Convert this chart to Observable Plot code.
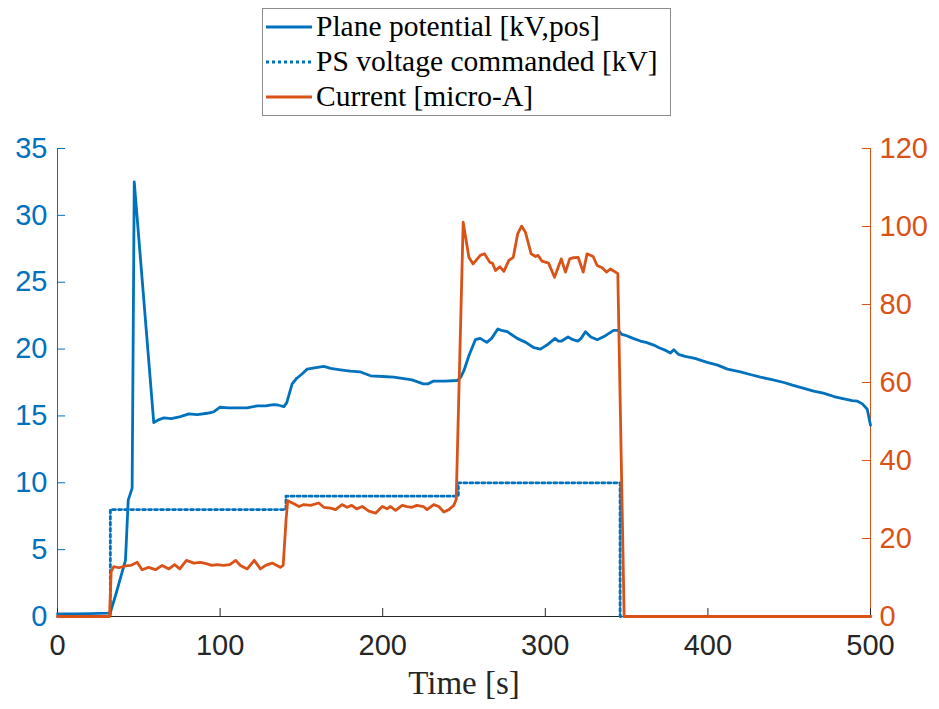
<!DOCTYPE html>
<html>
<head>
<meta charset="utf-8">
<script src="https://cdn.jsdelivr.net/npm/d3@7"></script>
<script src="https://cdn.jsdelivr.net/npm/@observablehq/plot@0.6"></script>
<style>
  html, body { margin: 0; padding: 0; background: #fff; }
  #wrap { position: relative; width: 939px; height: 709px; }
  #legend { position: absolute; left: 262px; top: 8px; }
</style>
</head>
<body>
<div id="wrap"></div>
<script>
// ---------- data ----------
const planeT = [0, 10, 20, 31, 32.5, 36, 39, 41.8, 43.5, 45.9, 46.5, 47.2, 59.2, 62, 65.4, 70, 75.6, 80.8, 86, 92, 96, 100, 105, 110, 116.6, 122.8, 128, 133, 136, 139.2, 141, 144.3, 147, 150, 153.6, 158, 163.8, 168, 174, 180, 186, 192.5, 200, 206.7, 212, 218, 225, 228, 231, 238, 245.8, 248, 250, 253, 257, 260, 264, 267, 270.8, 273, 276.6, 282.7, 288, 293, 297, 301, 306, 308, 310, 314, 317, 320, 322, 324.7, 328, 332, 337, 342, 345, 347, 350, 354, 358.5, 362, 366.7, 370, 374, 377, 379, 382, 386, 392, 399.6, 406, 412, 420, 426, 432.3, 440, 446.7, 452, 458, 465, 471, 477.5, 483, 488.7, 492, 495, 498, 500];
const planeV = [0.2, 0.2, 0.22, 0.25, 0.3, 1.7, 3.0, 4.2, 8.7, 9.6, 20, 32.5, 14.5, 14.7, 14.85, 14.8, 14.95, 15.15, 15.1, 15.2, 15.3, 15.65, 15.6, 15.6, 15.6, 15.75, 15.75, 15.85, 15.8, 15.7, 16.0, 17.4, 17.8, 18.1, 18.5, 18.6, 18.7, 18.55, 18.45, 18.35, 18.3, 18.0, 17.95, 17.9, 17.8, 17.7, 17.4, 17.4, 17.6, 17.6, 17.65, 17.9, 18.4, 19.5, 20.7, 20.8, 20.5, 20.8, 21.5, 21.4, 21.3, 20.8, 20.5, 20.1, 20.0, 20.3, 20.8, 20.6, 20.6, 20.9, 20.7, 20.6, 20.8, 21.3, 20.9, 20.7, 21.0, 21.4, 21.4, 21.1, 21.0, 20.8, 20.6, 20.5, 20.3, 20.1, 19.9, 19.7, 19.95, 19.6, 19.45, 19.3, 19.0, 18.8, 18.5, 18.3, 18.1, 17.9, 17.7, 17.5, 17.3, 17.1, 16.85, 16.7, 16.45, 16.3, 16.15, 16.1, 15.9, 15.5, 14.3];

const psT = [0, 32.5, 32.5, 140.5, 140.5, 246.5, 246.5, 346, 346, 500];
const psV = [0, 0, 8, 8, 9, 9, 10, 10, 0, 0];

const curT = [0, 32, 33, 34.6, 37.7, 42, 45, 49, 52, 56, 60.3, 64.4, 68.5, 72, 75.2, 79.3, 83.8, 88, 92, 95, 98, 102, 106, 109.5, 112.5, 116.7, 121, 124.8, 128, 132, 137, 138.8, 140.6, 141.6, 145.4, 148.5, 151.5, 155.6, 160.7, 163.8, 168, 171, 175, 178, 181, 184, 187.4, 191.5, 195.6, 199.7, 202.7, 204.8, 207.9, 212, 215, 218, 221, 225, 227.3, 231.4, 234.5, 237.6, 240.7, 243.7, 245.2, 249.5, 253, 255.6, 260, 262.6, 265.9, 267.5, 269.4, 272, 274.5, 277.6, 280.3, 283, 285.4, 287.8, 291.3, 294, 295.5, 298, 302, 305.7, 309.8, 312.4, 315, 317.5, 320.2, 323.3, 325.7, 329.4, 331.9, 335, 337.6, 340, 343.2, 344.6, 348.5, 500];
const curV = [0, 0, 11.5, 12.8, 12.5, 13.0, 13.1, 13.9, 12.0, 12.6, 12.0, 13.1, 12.2, 13.3, 12.2, 14.4, 13.7, 13.9, 13.5, 13.1, 13.3, 13.1, 13.3, 14.4, 13.1, 12.2, 14.4, 12.2, 13.1, 13.7, 12.6, 13.1, 25.0, 29.7, 28.9, 28.2, 28.7, 28.5, 29.1, 28.0, 27.8, 27.4, 28.7, 28.0, 28.5, 27.6, 28.2, 27.0, 26.5, 28.2, 27.6, 28.2, 27.2, 28.5, 28.2, 28.0, 28.5, 28.2, 27.4, 28.7, 28.2, 26.8, 27.4, 28.5, 30.0, 101.1, 92.1, 90.4, 92.6, 93.0, 90.8, 90.6, 88.7, 89.7, 88.5, 91.3, 92.1, 98.1, 100.1, 98.5, 93.0, 92.3, 92.6, 91.1, 90.6, 87.0, 91.7, 88.3, 91.7, 92.0, 92.1, 88.3, 93.0, 92.3, 90.0, 89.4, 88.3, 89.1, 88.3, 87.9, 0, 0];

const xTicks = [0, 100, 200, 300, 400, 500];
const yLeftTicks = [0, 5, 10, 15, 20, 25, 30, 35];
const yRightTicks = [0, 20, 40, 60, 80, 100, 120];

const seriesNames = ["Plane potential [kV,pos]", "PS voltage commanded [kV]", "Current [micro-A]"];

// ---------- styling ----------
const BLUE = "#0072BD";
const ORANGE = "#D95319";
const DARK = "#262626";
const leftMax = 35, rightMax = 120;
const k = leftMax / rightMax; // map right axis values onto left scale

const plane = planeT.map((t, i) => ({t, v: planeV[i]}));
const ps = psT.map((t, i) => ({t, v: psV[i]}));
const cur = curT.map((t, i) => ({t, v: curV[i] * k}));

const tickFont = "'Liberation Sans', Arial, Helvetica, sans-serif";
const serif = "'Liberation Serif', 'Times New Roman', serif";
const LW = 2.8;

const chart = Plot.plot({
  width: 939,
  height: 709,
  marginTop: 148,
  marginBottom: 93,
  marginLeft: 57,
  marginRight: 69,
  x: {domain: [0, 500]},
  y: {domain: [0, leftMax]},
  style: {fontFamily: tickFont, background: "#fff", overflow: "visible"},
  marks: [
    // axis lines
    Plot.ruleX([0], {stroke: BLUE, strokeWidth: 1}),
    Plot.ruleX([500], {stroke: ORANGE, strokeWidth: 1}),
    Plot.ruleY([0], {stroke: DARK, strokeWidth: 1}),
    // inward ticks
    Plot.ruleY(yLeftTicks, {x1: 0, x2: 5, stroke: BLUE, strokeWidth: 1}),
    Plot.ruleY(yRightTicks.map(d => d * k), {x1: 495, x2: 500, stroke: ORANGE, strokeWidth: 1}),
    Plot.ruleX(xTicks, {y1: 0, y2: 0.6, stroke: DARK, strokeWidth: 1}),
    // data
    Plot.line(ps, {x: "t", y: "v", stroke: BLUE, strokeWidth: LW, strokeDasharray: "3,3"}),
    Plot.line(plane, {x: "t", y: "v", stroke: BLUE, strokeWidth: LW, strokeLinejoin: "round"}),
    Plot.line(cur, {x: "t", y: "v", stroke: ORANGE, strokeWidth: LW, strokeLinejoin: "round"}),
    // tick labels
    Plot.axisX({ticks: xTicks, tickSize: 0, tickPadding: 18, fontSize: 29, color: DARK, label: null}),
    Plot.axisY({anchor: "left", ticks: yLeftTicks, tickSize: 0, tickPadding: 10, fontSize: 29, color: BLUE, label: null}),
    Plot.axisY({anchor: "right", ticks: yRightTicks.map(d => d * k), tickFormat: d => String(Math.round(d / k)), tickSize: 0, tickPadding: 9, fontSize: 29, color: ORANGE, label: null}),
    // x axis label
    Plot.text(["Time [s]"], {frameAnchor: "bottom", dy: 77, fontSize: 33, fontFamily: serif, fill: DARK, textAnchor: "middle"})
  ]
});

const wrap = document.getElementById("wrap");
wrap.appendChild(chart);

// legend (SVG overlay above the plot area)
const rowsY = [27, 62, 97];
const styles = [
  {stroke: BLUE, dash: null},
  {stroke: BLUE, dash: "3,3"},
  {stroke: ORANGE, dash: null}
];
const ns = "http://www.w3.org/2000/svg";
const lg = document.createElementNS(ns, "svg");
lg.setAttribute("id", "legend");
lg.setAttribute("width", 410);
lg.setAttribute("height", 110);
const box = document.createElementNS(ns, "rect");
box.setAttribute("x", 0.5); box.setAttribute("y", 0.5);
box.setAttribute("width", 408); box.setAttribute("height", 107);
box.setAttribute("fill", "#fff"); box.setAttribute("stroke", "#8c8c8c");
lg.appendChild(box);
seriesNames.forEach((name, i) => {
  const y = rowsY[i] - 8;
  const ln = document.createElementNS(ns, "line");
  ln.setAttribute("x1", 4); ln.setAttribute("x2", 50);
  ln.setAttribute("y1", y); ln.setAttribute("y2", y);
  ln.setAttribute("stroke", styles[i].stroke);
  ln.setAttribute("stroke-width", LW);
  if (styles[i].dash) ln.setAttribute("stroke-dasharray", styles[i].dash);
  lg.appendChild(ln);
  const tx = document.createElementNS(ns, "text");
  tx.setAttribute("x", 54); tx.setAttribute("y", y + 9);
  tx.setAttribute("font-family", serif);
  tx.setAttribute("font-size", 29.5);
  tx.setAttribute("fill", "#000");
  tx.textContent = name;
  lg.appendChild(tx);
});
wrap.appendChild(lg);
</script>
</body>
</html>
